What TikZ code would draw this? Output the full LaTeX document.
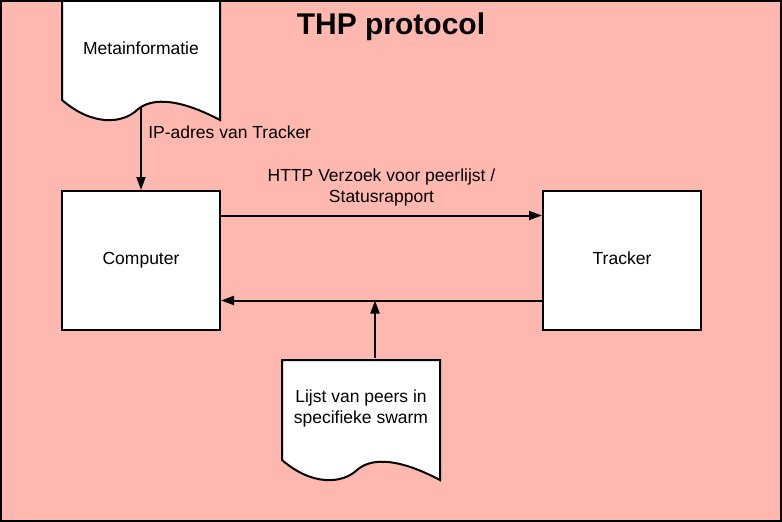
\documentclass[tikz,border=0pt]{standalone}
\usepackage{fontspec}
\setmainfont{Liberation Sans}
\usetikzlibrary{arrows.meta,positioning}
\definecolor{thppink}{RGB}{255,184,176}
\newcommand{\docshape}[2]{%
  \filldraw[doc,shift={(#1,#2)}] (0,100) -- (0,0) -- (158,0) -- (158,120)
    .. controls (120,100) and (91,96) .. (75,110)
    .. controls (60,124) and (30,126) .. (0,100) -- cycle;}
\begin{document}
\begin{tikzpicture}[
			x=1pt,y=-1pt,
			font=\fontsize{17.5}{21}\selectfont,
			box/.style={draw,fill=white,line width=2pt,minimum width=158pt,minimum height=139pt,text height=12pt,text depth=4pt},
			doc/.style={draw,fill=white,line width=2pt},
			doctext/.style={minimum width=158pt,minimum height=100pt,align=center},
			arr/.style={line width=2pt,-{Triangle[length=13pt,width=9pt]}}
		]
		\useasboundingbox (0,0) rectangle (782,522);
		\fill[thppink] (0,0) rectangle (782,522);
		\node[font=\bfseries\fontsize{30}{36}\selectfont] (title) at (391,27) {THP protocol};
		\docshape{62}{0}
		\node[doctext] (meta) at (141,48) {Metainformatie};
		\docshape{282}{360}
		\node[doctext] (lijst) at (361,408) {Lijst van peers in\\specifieke swarm};
		\node[box] (computer) at (141,260.5) {Computer};
		\node[box,right=321pt of computer] (tracker) {Tracker};
		\draw[arr] ([yshift=-10pt]meta.south) -- node[pos=0.3,right=3pt] (iplabel) {IP-adres van Tracker} (computer.north);
		\draw[arr] ([yshift=45pt]computer.east) -- node[above=5pt,align=center] (httplabel) {HTTP Verzoek voor peerlijst /\\Statusrapport} ([yshift=45pt]tracker.west);
		\draw[arr] ([yshift=-40pt]tracker.west) coordinate (backstart) -- ([yshift=-40pt]computer.east);
		\coordinate (lijsttop) at ([xshift=14pt]lijst.north);
		\draw[arr] (lijsttop) -- (lijsttop |- backstart);
		\draw[line width=2pt] (1,1) rectangle (781,521);
	\end{tikzpicture}
\end{document}
